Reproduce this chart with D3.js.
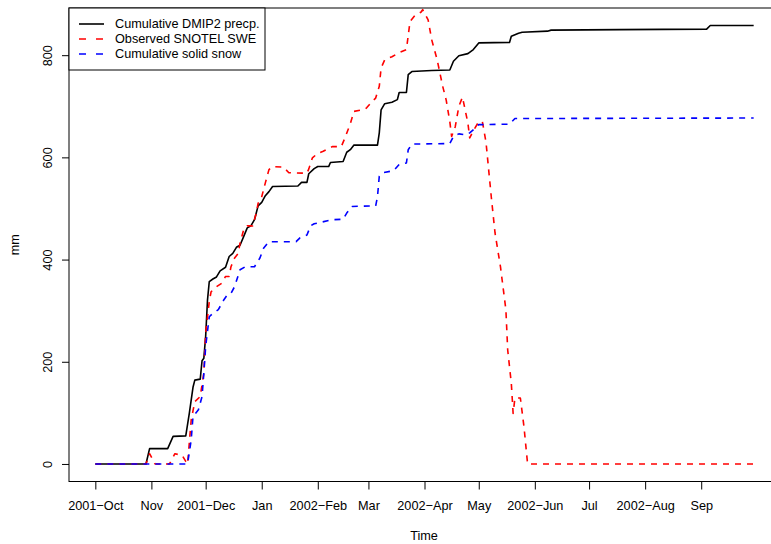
<!DOCTYPE html>
<html>
<head>
<meta charset="utf-8">
<script src="https://cdn.jsdelivr.net/npm/d3@7"></script>
<style>
  html, body { margin: 0; padding: 0; background: #fff; }
  svg { display: block; font-family: "Liberation Sans", Arial, Helvetica, sans-serif; }
</style>
</head>
<body>
<svg id="chart" width="771" height="544"></svg>
<script>
// Water year 2001-10-01 .. 2002-09-30, values in mm

// Cumulative DMIP2 precipitation
const precipDates = ["2001-10-01","2001-10-29","2001-10-31","2001-11-10","2001-11-13","2001-11-20","2001-11-22","2001-11-24","2001-11-25","2001-11-28","2001-11-29","2001-11-30","2001-12-01","2001-12-02","2001-12-03","2001-12-05","2001-12-07","2001-12-09","2001-12-12","2001-12-14","2001-12-16","2001-12-18","2001-12-20","2001-12-22","2001-12-24","2001-12-26","2001-12-28","2001-12-30","2002-01-01","2002-01-03","2002-01-05","2002-01-07","2002-01-21","2002-01-23","2002-01-26","2002-01-27","2002-01-30","2002-02-01","2002-02-07","2002-02-08","2002-02-15","2002-02-17","2002-02-19","2002-02-21","2002-03-06","2002-03-07","2002-03-08","2002-03-10","2002-03-14","2002-03-17","2002-03-18","2002-03-22","2002-03-23","2002-03-25","2002-04-05","2002-04-15","2002-04-17","2002-04-20","2002-04-25","2002-04-28","2002-05-01","2002-05-18","2002-05-19","2002-05-23","2002-05-25","2002-06-08","2002-06-10","2002-07-18","2002-09-04","2002-09-06","2002-09-30"];
const precipMm = [0,0,30,30,54,55,100,150,164,166,202,207,250,320,357,362,366,378,385,406,412,424,428,445,462,466,478,505,512,525,533,543,544,551,551,568,578,582,582,590,592,610,615,624,624,648,693,705,708,713,727,727,762,768,770,771,788,799,803,811,824,825,837,843,845,847,849,850,851,858,858];

// Observed SNOTEL snow water equivalent
const sweDates = ["2001-10-01","2001-10-29","2001-10-31","2001-11-03","2001-11-11","2001-11-14","2001-11-18","2001-11-20","2001-11-21","2001-11-23","2001-11-25","2001-11-28","2001-11-30","2001-12-01","2001-12-03","2001-12-04","2001-12-07","2001-12-10","2001-12-12","2001-12-14","2001-12-15","2001-12-17","2001-12-19","2001-12-20","2001-12-22","2001-12-24","2001-12-27","2001-12-29","2001-12-30","2002-01-01","2002-01-03","2002-01-05","2002-01-07","2002-01-13","2002-01-16","2002-01-26","2002-01-27","2002-01-29","2002-02-01","2002-02-04","2002-02-09","2002-02-14","2002-02-16","2002-02-19","2002-02-21","2002-02-27","2002-02-28","2002-03-03","2002-03-05","2002-03-07","2002-03-08","2002-03-10","2002-03-14","2002-03-17","2002-03-18","2002-03-22","2002-03-24","2002-03-27","2002-03-30","2002-03-31","2002-04-03","2002-04-05","2002-04-08","2002-04-11","2002-04-13","2002-04-15","2002-04-16","2002-04-18","2002-04-20","2002-04-22","2002-04-25","2002-04-26","2002-04-28","2002-05-01","2002-05-03","2002-05-05","2002-05-08","2002-05-10","2002-05-13","2002-05-16","2002-05-17","2002-05-19","2002-05-20","2002-05-21","2002-05-24","2002-05-26","2002-05-28","2002-09-30"];
const sweMm = [0,0,20,0,0,20,17,5,0,86,122,132,178,256,318,337,347,354,367,367,386,403,412,432,458,466,466,491,510,523,550,576,582,581,570,569,577,599,608,612,621,621,638,666,690,694,697,709,716,739,775,791,797,803,805,811,866,879,884,889,869,830,791,740,712,670,641,660,700,718,667,638,652,670,670,630,520,452,386,302,223,158,99,129,129,73,0,0];

// Cumulative solid snow
const snowDates = ["2001-10-01","2001-11-21","2001-11-23","2001-11-24","2001-11-27","2001-11-29","2001-11-30","2001-12-01","2001-12-03","2001-12-05","2001-12-08","2001-12-11","2001-12-13","2001-12-15","2001-12-17","2001-12-20","2001-12-23","2001-12-28","2001-12-31","2002-01-02","2002-01-05","2002-01-20","2002-01-22","2002-01-26","2002-01-28","2002-01-30","2002-02-09","2002-02-15","2002-02-17","2002-02-20","2002-03-05","2002-03-06","2002-03-07","2002-03-09","2002-03-15","2002-03-18","2002-03-22","2002-03-23","2002-03-25","2002-04-15","2002-04-17","2002-04-20","2002-04-24","2002-04-26","2002-04-29","2002-05-01","2002-05-18","2002-05-21","2002-09-30"];
const snowMm = [0,0,47,93,106,132,178,230,288,295,302,321,331,334,347,380,386,386,403,422,435,435,442,448,466,470,478,479,491,504,505,523,563,570,574,586,589,615,626,627,641,646,644,648,657,664,665,676,677];

const seriesNames = ["Cumulative DMIP2 precp.", "Observed SNOTEL SWE", "Cumulative solid snow"];
const seriesColors = ["#000000", "#ff0000", "#0000ff"];
const seriesDash = [null, "6,6", "6,6"];

const tickDates = ["2001-10-01","2001-11-01","2001-12-01","2002-01-01","2002-02-01","2002-03-01","2002-04-01","2002-05-01","2002-06-01","2002-07-01","2002-08-01","2002-09-01"];
const tickLabels = ["2001\u2212Oct","Nov","2001\u2212Dec","Jan","2002\u2212Feb","Mar","2002\u2212Apr","May","2002\u2212Jun","Jul","2002\u2212Aug","Sep"];
const yTicks = [0, 200, 400, 600, 800];

const parse = d3.utcParse("%Y-%m-%d");
const toPoints = (dates, vals) => dates.map((d, i) => ({ date: parse(d), value: vals[i] }));
const series = [
  toPoints(precipDates, precipMm),
  toPoints(sweDates, sweMm),
  toPoints(snowDates, snowMm)
];

const svg = d3.select("#chart");

// plotting region (R-style 4% padding around the data range)
const first = parse(precipDates[0]);
const last = parse(precipDates[precipDates.length - 1]);
const span = last - first;
const xPad = span * 0.04;
const x = d3.scaleUtc()
  .domain([new Date(+first - xPad), new Date(+last + xPad)])
  .range([69, 780]);

const yMax = d3.max(precipMm);
const yPad = yMax * 0.04;
const y = d3.scaleLinear()
  .domain([-yPad, yMax + yPad])
  .range([481.5, 8]);

const [x0, x1] = x.range();
const [yb, yt] = y.range();

const font = "12.7px";

// data lines
const line = d3.line().x(d => x(d.date)).y(d => y(d.value));
series.forEach((pts, i) => {
  svg.append("path")
    .datum(pts)
    .attr("fill", "none")
    .attr("stroke", seriesColors[i])
    .attr("stroke-width", 1.6)
    .attr("stroke-dasharray", seriesDash[i])
    .attr("stroke-linejoin", "round")
    .attr("d", line);
});

// frame
svg.append("rect")
  .attr("x", x0).attr("y", yt)
  .attr("width", x1 - x0).attr("height", yb - yt)
  .attr("fill", "none").attr("stroke", "#000").attr("stroke-width", 1);

// x axis
const xAxis = d3.axisBottom(x)
  .tickValues(tickDates.map(parse))
  .tickFormat((d, i) => tickLabels[i])
  .tickSize(8)
  .tickPadding(11);
const gx = svg.append("g").attr("transform", `translate(0,${yb})`).call(xAxis);
gx.select(".domain").remove();
gx.selectAll("line").attr("stroke", "#000");
gx.selectAll("text").attr("font-size", font).attr("font-family", null).attr("fill", "#000");

// y axis
const yAxis = d3.axisLeft(y)
  .tickValues(yTicks)
  .tickSize(7)
  .tickFormat(d3.format("d"));
const gy = svg.append("g").attr("transform", `translate(${x0},0)`).call(yAxis);
gy.select(".domain").remove();
gy.selectAll("line").attr("stroke", "#000");
gy.selectAll("text")
  .attr("font-size", font).attr("font-family", null).attr("fill", "#000")
  .attr("text-anchor", "middle")
  .attr("x", null)
  .attr("transform", "translate(-21,0) rotate(-90)")
  .attr("dy", "0.35em");

// axis titles
svg.append("text")
  .attr("x", (95 + 753) / 2).attr("y", 540)
  .attr("text-anchor", "middle").attr("font-size", font)
  .text("Time");
svg.append("text")
  .attr("transform", `translate(19,${(yb + yt) / 2}) rotate(-90)`)
  .attr("text-anchor", "middle").attr("font-size", font)
  .text("mm");

// legend
const lg = svg.append("g");
lg.append("rect")
  .attr("x", x0).attr("y", yt)
  .attr("width", 196).attr("height", 62)
  .attr("fill", "#fff").attr("stroke", "#000").attr("stroke-width", 1);
seriesNames.forEach((name, i) => {
  const cy = 24 + i * 15;
  lg.append("line")
    .attr("x1", 79).attr("x2", 104)
    .attr("y1", cy).attr("y2", cy)
    .attr("stroke", seriesColors[i]).attr("stroke-width", 1.6)
    .attr("stroke-dasharray", seriesDash[i] ? "7,10" : null);
  lg.append("text")
    .attr("x", 115).attr("y", cy).attr("dy", "0.35em")
    .attr("font-size", font)
    .text(name);
});
</script>
</body>
</html>
